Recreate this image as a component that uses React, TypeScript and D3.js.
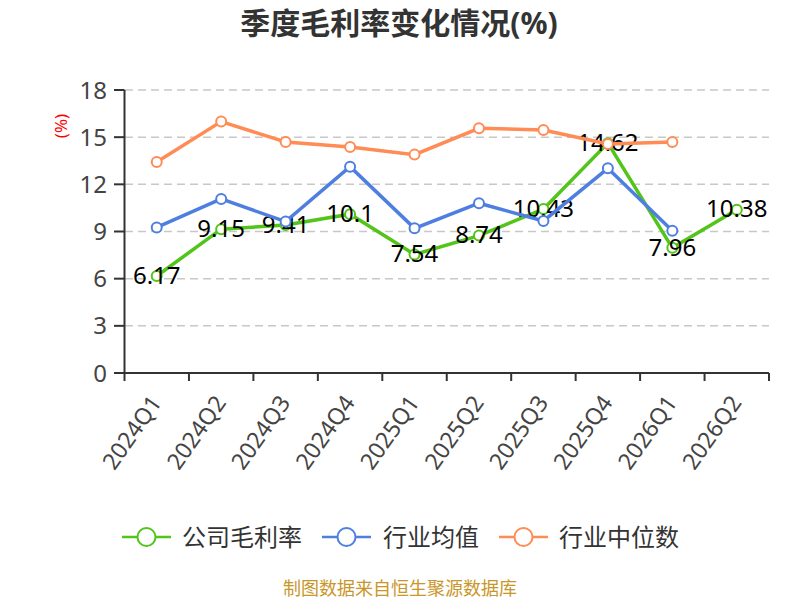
import React from 'react';
import * as d3 from 'd3';

const categories = ['2024Q1', '2024Q2', '2024Q3', '2024Q4', '2025Q1', '2025Q2', '2025Q3', '2025Q4', '2026Q1', '2026Q2'];
const companyMargin = [6.17, 9.15, 9.41, 10.1, 7.54, 8.74, 10.43, 14.62, 7.96, 10.38];
const industryAvg: (number | null)[] = [9.26, 11.07, 9.63, 13.12, 9.2, 10.8, 9.67, 13.02, 9.05, null];
const industryMedian: (number | null)[] = [13.42, 15.99, 14.69, 14.38, 13.89, 15.56, 15.46, 14.56, 14.69, null];
const yTicks = [0, 3, 6, 9, 12, 15, 18];

const seriesNames = ['公司毛利率', '行业均值', '行业中位数'];
const seriesColors = ['#52c41a', '#4e7fe0', '#ff8c55'];

const width = 800;
const height = 600;
const FONT = '"Noto Sans", "Noto Sans CJK SC", sans-serif';

export default function App() {
  const x = d3.scaleBand<string>().domain(categories).range([124.5, 769]);
  const y = d3.scaleLinear().domain([0, 18]).range([373, 90]);
  const cx = (c: string) => (x(c) as number) + x.bandwidth() / 2;

  const allSeries = [companyMargin, industryAvg, industryMedian];

  const line = d3
    .line<number | null>()
    .defined(d => d != null)
    .x((_, i) => cx(categories[i]))
    .y(d => y(d as number));

  // legend layout
  const legendItems = [
    { x: 122, textX: 182 },
    { x: 322, textX: 383 },
    { x: 499, textX: 559 },
  ];

  return (
    <svg
      width={width}
      height={height}
      style={{ position: 'absolute', left: 0, top: 0, background: '#fff' }}
      fontFamily={FONT}
    >
      {/* title */}
      <text x={399} y={34} textAnchor="middle" fontSize={30} fontWeight="bold" fill="#333">
        季度毛利率变化情况(%)
      </text>

      {/* y unit */}
      <text
        transform="translate(67,126) rotate(-90)"
        textAnchor="middle"
        fontSize={17}
        fill="#ff0000"
      >
        (%)
      </text>

      {/* grid lines */}
      {yTicks.filter(t => t > 0).map(t => (
        <line
          key={t}
          x1={125}
          x2={769}
          y1={y(t)}
          y2={y(t)}
          stroke="#c8c8c8"
          strokeWidth={1.5}
          strokeDasharray="8 5"
        />
      ))}

      {/* y axis */}
      <line x1={124.5} x2={124.5} y1={y(18)} y2={y(0)} stroke="#333" strokeWidth={2} />
      {yTicks.map(t => (
        <g key={t}>
          <line x1={114} x2={124.5} y1={y(t)} y2={y(t)} stroke="#333" strokeWidth={2} />
          <text x={107} y={y(t)} dy="0.36em" textAnchor="end" fontSize={24} fill="#444">
            {t}
          </text>
        </g>
      ))}

      {/* x axis */}
      <line x1={124.5} x2={769} y1={y(0)} y2={y(0)} stroke="#333" strokeWidth={2} />
      {categories.map(c => (
        <line
          key={'t' + c}
          x1={x(c)}
          x2={x(c)}
          y1={y(0)}
          y2={y(0) + 8}
          stroke="#333"
          strokeWidth={2}
        />
      ))}
      <line x1={769} x2={769} y1={y(0)} y2={y(0) + 8} stroke="#333" strokeWidth={2} />
      {categories.map(c => (
        <text
          key={'l' + c}
          transform={`translate(${cx(c) - 1},${y(0) + 25}) rotate(-55)`}
          textAnchor="end"
          dy="0.36em"
          fontSize={23}
          fill="#444"
        >
          {c}
        </text>
      ))}

      {/* series */}
      {allSeries.map((data, si) => (
        <g key={si}>
          <path d={line(data) || ''} fill="none" stroke={seriesColors[si]} strokeWidth={3.5} />
          {data.map((d, i) =>
            d == null ? null : (
              <circle
                key={i}
                cx={cx(categories[i])}
                cy={y(d)}
                r={5}
                fill="#fff"
                stroke={seriesColors[si]}
                strokeWidth={2}
              />
            )
          )}
          {si === 0 &&
            data.map((d, i) =>
              d == null ? null : (
                <text
                  key={'v' + i}
                  x={cx(categories[i])}
                  y={y(d)}
                  dy="0.32em"
                  textAnchor="middle"
                  fontSize={24}
                  fill="#000"
                >
                  {d}
                </text>
              )
            )}
        </g>
      ))}

      {/* legend */}
      {seriesNames.map((name, i) => (
        <g key={name}>
          <line
            x1={legendItems[i].x}
            x2={legendItems[i].x + 49}
            y1={537}
            y2={537}
            stroke={seriesColors[i]}
            strokeWidth={2.5}
          />
          <circle
            cx={legendItems[i].x + 24.5}
            cy={537}
            r={9}
            fill="#fff"
            stroke={seriesColors[i]}
            strokeWidth={2}
          />
          <text x={legendItems[i].textX} y={537} dy="0.36em" fontSize={24} fill="#333">
            {name}
          </text>
        </g>
      ))}

      {/* footer */}
      <text x={400} y={595} textAnchor="middle" fontSize={18} fill="#c9962a">
        制图数据来自恒生聚源数据库
      </text>
    </svg>
  );
}
